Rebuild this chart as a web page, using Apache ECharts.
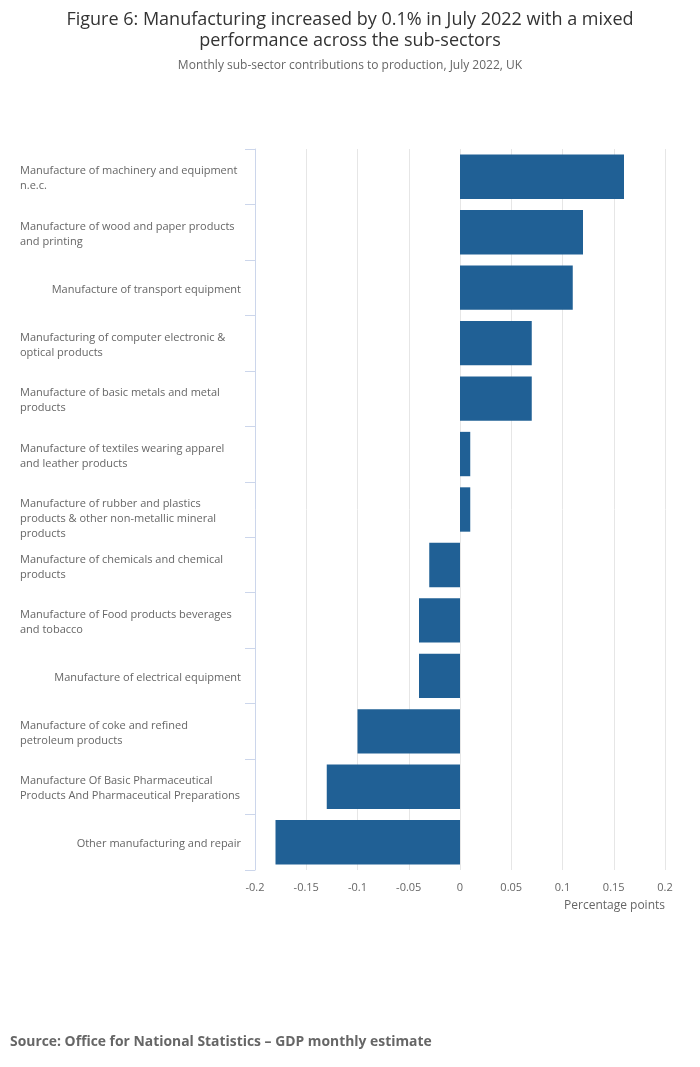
<!DOCTYPE html>
<html>
<head>
<meta charset="utf-8">
<script src="https://cdn.jsdelivr.net/npm/echarts@6/dist/echarts.min.js"></script>
<style>
  html, body { margin: 0; padding: 0; background: #fff; }
  #chart { width: 700px; height: 1067px; }
</style>
</head>
<body>
<div id="chart"></div>
<script>
// sub-sectors, top to bottom, wrapped as in the original
const categories = [
  'Manufacture of machinery and equipment\nn.e.c.',
  'Manufacture of wood and paper products\nand printing',
  'Manufacture of transport equipment',
  'Manufacturing of computer electronic &\noptical products',
  'Manufacture of basic metals and metal\nproducts',
  'Manufacture of textiles wearing apparel\nand leather products',
  'Manufacture of rubber and plastics\nproducts & other non-metallic mineral\nproducts',
  'Manufacture of chemicals and chemical\nproducts',
  'Manufacture of Food products beverages\nand tobacco',
  'Manufacture of electrical equipment',
  'Manufacture of coke and refined\npetroleum products',
  'Manufacture Of Basic Pharmaceutical\nProducts And Pharmaceutical Preparations',
  'Other manufacturing and repair'
];
const contributions = [0.16, 0.12, 0.11, 0.07, 0.07, 0.01, 0.01, -0.03, -0.04, -0.04, -0.10, -0.13, -0.18];
const xTicks = [-0.2, -0.15, -0.1, -0.05, 0, 0.05, 0.1, 0.15, 0.2];

const chart = echarts.init(document.getElementById('chart'));
const font = '"Open Sans", sans-serif';

chart.setOption({
  textStyle: { fontFamily: font },
  title: [{
    text: 'Figure 6: Manufacturing increased by 0.1% in July 2022 with a mixed\nperformance across the sub-sectors',
    left: 'center', top: 4,
    textStyle: { fontSize: 18, fontWeight: 'normal', color: '#333', lineHeight: 21, fontFamily: font }
  }, {
    text: 'Monthly sub-sector contributions to production, July 2022, UK',
    left: 'center', top: 55,
    textStyle: { fontSize: 12, fontWeight: 'normal', color: '#666', fontFamily: font }
  }, {
    text: 'Source: Office for National Statistics \u2013 GDP monthly estimate',
    left: 5, top: 1030,
    textStyle: { fontSize: 13.9, fontWeight: 'bold', color: '#666', fontFamily: font }
  }],
  grid: { left: 255, right: 35, top: 149, bottom: 197, containLabel: false },
  xAxis: {
    type: 'value',
    min: -0.2, max: 0.2, interval: 0.05,
    axisLine: { show: false },
    axisTick: { show: false },
    splitLine: { lineStyle: { color: '#e6e6e6', width: 1 } },
    axisLabel: {
      color: '#666', fontSize: 11, margin: 12, fontFamily: font,
      formatter: v => {
        const t = xTicks.find(x => Math.abs(x - v) < 1e-9);
        return String(t !== undefined ? t : +v.toFixed(2));
      }
    }
  },
  yAxis: {
    type: 'category',
    inverse: true,
    data: categories.map(c => ({
      value: c,
      textStyle: { padding: [c.split('\n').length > 2 ? 18 : 4, 0, 0, 0] }
    })),
    axisLine: { onZero: false, lineStyle: { color: '#ccd6eb', width: 1 } },
    axisTick: { show: true, length: 10, lineStyle: { color: '#ccd6eb' } },
    splitLine: { show: false },
    axisLabel: {
      margin: 14, align: 'right', color: '#666', fontSize: 11, lineHeight: 15, fontFamily: font,
      // wrapped labels sit in a fixed-width left-aligned block, single lines hug the axis
      formatter: v => {
        const lines = v.split('\n');
        const s = lines.length > 1 ? 'w' : 'l';
        return lines.map(l => '{' + s + '|' + l + '}').join('\n');
      },
      rich: {
        l: { align: 'left', color: '#666', fontSize: 11, lineHeight: 15, fontFamily: font },
        w: { align: 'left', width: 221, color: '#666', fontSize: 11, lineHeight: 15, fontFamily: font }
      }
    }
  },
  series: [{
    type: 'bar',
    data: contributions,
    barCategoryGap: '20%',
    itemStyle: { color: '#206095' },
    silent: true
  }],
  graphic: [{
    type: 'text',
    right: 35, top: 900,
    style: { text: 'Percentage points', fill: '#666', fontSize: 12, fontFamily: font }
  }],
  animation: false
});
</script>
</body>
</html>
